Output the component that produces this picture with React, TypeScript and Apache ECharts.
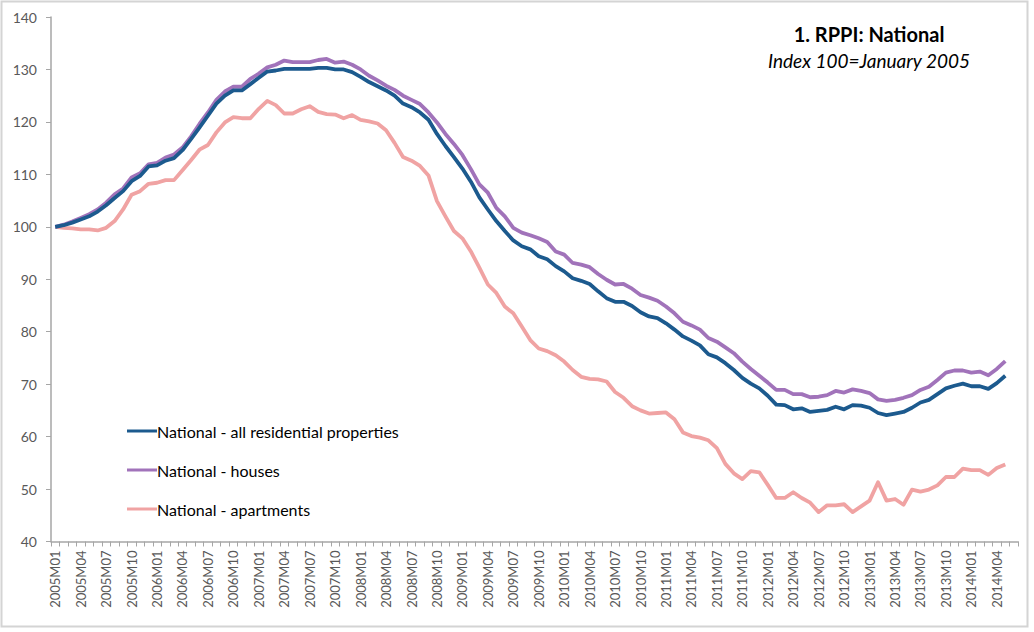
import React, { useEffect, useRef } from "react";
import * as echarts from "echarts";

const years = [2005, 2006, 2007, 2008, 2009, 2010, 2011, 2012, 2013, 2014];
const monthCodes = ["01", "02", "03", "04", "05", "06", "07", "08", "09", "10", "11", "12"];
// 2005M01 .. 2014M06 (last category has no value)
const categories: string[] = [];
years.forEach((y) => monthCodes.forEach((m) => categories.push(`${y}M${m}`)));
categories.splice(categories.indexOf("2014M07"));

const seriesNames = [
  "National - all residential properties",
  "National - houses",
  "National - apartments",
];

const allResidential = [
  100, 100.3, 100.8, 101.4, 102, 102.9, 104.1, 105.5, 106.8, 108.7, 109.7, 111.5,
  111.7, 112.6, 113.1, 114.6, 116.7, 118.9, 121.2, 123.5, 125, 126, 126, 127.2,
  128.4, 129.6, 129.8, 130.1, 130.1, 130.1, 130.1, 130.3, 130.3, 130, 130, 129.5,
  128.6, 127.6, 126.8, 126, 125, 123.5, 122.8, 121.8, 120.4, 117.7, 115.4, 113.3,
  111.1, 108.6, 105.6, 103.3, 101.1, 99.2, 97.4, 96.3, 95.7, 94.4, 93.8, 92.5,
  91.5, 90.2, 89.7, 89.1, 87.7, 86.4, 85.7, 85.7, 84.9, 83.7, 82.9, 82.6,
  81.6, 80.4, 79.1, 78.3, 77.4, 75.7, 75.1, 74.0, 72.7, 71.2, 70.1, 69.2,
  67.8, 66.1, 66.0, 65.2, 65.4, 64.7, 64.9, 65.1, 65.7, 65.2, 66.0, 65.9,
  65.5, 64.5, 64.1, 64.4, 64.7, 65.5, 66.5, 67.0, 68.1, 69.2, 69.7, 70.1,
  69.6, 69.6, 69.1, 70.2, 71.6, null,
];

const housesValues = [
  100, 100.4, 101, 101.7, 102.4, 103.3, 104.6, 106.2, 107.3, 109.4, 110.2, 111.9,
  112.2, 113.2, 113.8, 115.1, 117.2, 119.6, 121.8, 124.2, 125.8, 126.7, 126.7, 128.2,
  129.2, 130.4, 130.9, 131.7, 131.4, 131.4, 131.4, 131.8, 132, 131.3, 131.5, 130.9,
  130, 128.8, 127.9, 126.9, 126.1, 125.0, 124.2, 123.4, 121.8, 119.9, 117.7, 115.8,
  113.7, 111.0, 108.1, 106.5, 103.6, 102.0, 99.8, 98.9, 98.4, 97.8, 97.1, 95.3,
  94.7, 93.1, 92.8, 92.3, 91.0, 89.9, 89.0, 89.1, 88.2, 87.0, 86.5, 85.9,
  84.8, 83.5, 81.9, 81.2, 80.4, 78.8, 78.1, 77.0, 75.9, 74.3, 72.9, 71.6,
  70.3, 68.9, 68.9, 68.1, 68.1, 67.5, 67.6, 67.9, 68.7, 68.4, 69.0, 68.7,
  68.3, 67.1, 66.8, 67.0, 67.4, 67.9, 68.9, 69.5, 70.8, 72.2, 72.6, 72.6,
  72.2, 72.4, 71.7, 72.9, 74.4, null,
];

const apartmentsValues = [
  100, 99.8, 99.7, 99.5, 99.5, 99.3, 99.8, 101.1, 103.3, 106.1, 106.8, 108.2,
  108.4, 108.9, 108.9, 110.8, 112.7, 114.7, 115.6, 118, 119.9, 120.9, 120.7, 120.7,
  122.5, 124, 123.2, 121.6, 121.6, 122.4, 123, 121.9, 121.5, 121.4, 120.7, 121.3,
  120.4, 120.1, 119.7, 118.4, 116, 113.3, 112.6, 111.6, 109.8, 104.9, 102.0, 99.2,
  97.8, 95.3, 92.2, 89.0, 87.4, 84.8, 83.5, 81.0, 78.4, 76.8, 76.3, 75.5,
  74.3, 72.7, 71.4, 71.0, 70.9, 70.5, 68.5, 67.4, 65.8, 65.0, 64.4, 64.5,
  64.6, 63.3, 60.8, 60.1, 59.8, 59.3, 57.8, 54.8, 53.0, 51.9, 53.4, 53.2,
  50.8, 48.3, 48.3, 49.4, 48.3, 47.4, 45.6, 46.9, 46.9, 47.1, 45.6, 46.7,
  47.8, 51.3, 47.8, 48.1, 47.0, 49.9, 49.5, 49.9, 50.7, 52.3, 52.3, 53.9,
  53.6, 53.6, 52.7, 54.0, 54.7, null,
];

const colors = ["#1c5a8e", "#a173ba", "#f0a3a3"];
const titleText = "1. RPPI: National";
const subtitleText = "Index 100=January 2005";
const FONT = "Lato, 'Open Sans', sans-serif";

export default function App() {
  const ref = useRef<HTMLDivElement>(null);
  useEffect(() => {
    if (!ref.current) return;
    const chart = echarts.init(ref.current, undefined, { renderer: "svg" });
    const values = [allResidential, housesValues, apartmentsValues];
    chart.setOption({
      animation: false,
      backgroundColor: "#ffffff",
      textStyle: { fontFamily: FONT },
      title: [
        {
          text: titleText,
          left: 864,
          top: 19,
          textAlign: "center",
          textStyle: { fontFamily: FONT, fontSize: 20, fontWeight: "bold", color: "#000" },
        },
        {
          text: subtitleText,
          left: 864,
          top: 46,
          textAlign: "center",
          textStyle: { fontFamily: FONT, fontSize: 19, fontStyle: "italic", fontWeight: "normal", color: "#000" },
        },
      ],
      legend: {
        orient: "vertical",
        left: 127,
        top: 421,
        padding: 0,
        icon: "rect",
        itemWidth: 30,
        itemHeight: 3,
        itemGap: 19,
        data: seriesNames,
        textStyle: { fontFamily: FONT, fontSize: 16, color: "#000", lineHeight: 20, padding: [0, 0, 0, -5] },
      },
      grid: { left: 51, right: 16, top: 17, bottom: 90.5, containLabel: false },
      xAxis: {
        type: "category",
        data: categories,
        boundaryGap: true,
        axisLine: { lineStyle: { color: "#a6a6a6", width: 1.5 } },
        axisTick: { show: true, interval: 0, length: 5, lineStyle: { color: "#a6a6a6" } },
        axisLabel: {
          interval: 2,
          rotate: 90,
          margin: 9,
          fontSize: 13,
          color: "#595959",
          fontFamily: FONT,
        },
      },
      yAxis: {
        type: "value",
        min: 40,
        max: 140,
        interval: 10,
        splitLine: { show: false },
        axisLine: { show: true, lineStyle: { color: "#a6a6a6", width: 1.5 } },
        axisTick: { show: true, length: 5, lineStyle: { color: "#a6a6a6" } },
        axisLabel: { margin: 14, fontSize: 14, color: "#595959", fontFamily: FONT },
      },
      graphic: [
        {
          type: "rect",
          shape: { x: 1.5, y: 1.5, width: 1026, height: 625 },
          style: { fill: "none", stroke: "#d4d4d4", lineWidth: 2 },
          silent: true,
        },
      ],
      series: seriesNames.map((name, i) => ({
        name,
        type: "line",
        data: values[i],
        showSymbol: false,
        symbol: "none",
        connectNulls: false,
        lineStyle: { color: colors[i], width: 3.8, join: "round" },
        itemStyle: { color: colors[i] },
        z: 3 - i,
      })),
    });
    return () => chart.dispose();
  }, []);
  return (
    <div
      ref={ref}
      style={{ position: "fixed", left: 0, top: 0, width: 1034, height: 632, background: "#fff" }}
    />
  );
}
